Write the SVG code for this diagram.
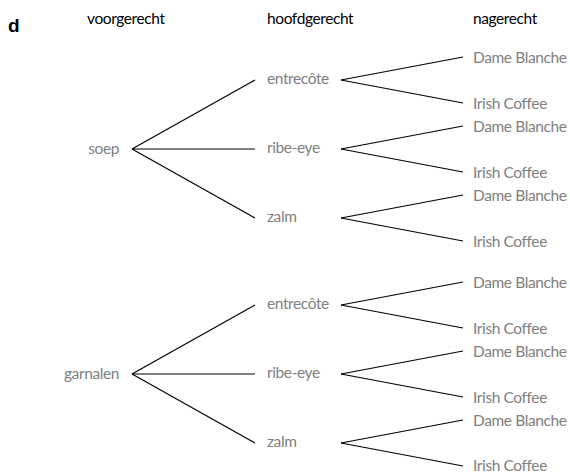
<svg xmlns="http://www.w3.org/2000/svg" width="570" height="473" viewBox="0 0 570 473">
<style>
text{font-family:"Lato","Liberation Sans",sans-serif;font-size:15.5px;letter-spacing:-0.4px}
.h{fill:#000}
.n{fill:#808080}
.e{text-anchor:end}
.c line{stroke:#000;stroke-width:1.2}
</style>
<rect width="570" height="473" fill="#fff"/>
<g id="headers">
<text x="8" y="32" style="font-family:'Liberation Sans',sans-serif;font-weight:bold;font-size:19px;letter-spacing:0">d</text>
<text class="h" x="87" y="24">voorgerecht</text>
<text class="h" x="267" y="24">hoofdgerecht</text>
<text class="h" x="473" y="24">nagerecht</text>
</g>
<g class="c" id="connectors">
<line x1="132" y1="149" x2="255" y2="80"/>
<line x1="132" y1="149" x2="255" y2="149"/>
<line x1="132" y1="149" x2="255" y2="218"/>
<line x1="341" y1="80" x2="463" y2="57"/>
<line x1="341" y1="80" x2="463" y2="103"/>
<line x1="341" y1="149" x2="463" y2="126"/>
<line x1="341" y1="149" x2="463" y2="172"/>
<line x1="341" y1="218" x2="463" y2="195"/>
<line x1="341" y1="218" x2="463" y2="241"/>
<line x1="132" y1="374" x2="255" y2="305"/>
<line x1="132" y1="374" x2="255" y2="374"/>
<line x1="132" y1="374" x2="255" y2="443"/>
<line x1="341" y1="305" x2="463" y2="282"/>
<line x1="341" y1="305" x2="463" y2="328"/>
<line x1="341" y1="374" x2="463" y2="351"/>
<line x1="341" y1="374" x2="463" y2="397"/>
<line x1="341" y1="443" x2="463" y2="420"/>
<line x1="341" y1="443" x2="463" y2="466"/>
</g>
<g id="soep"><text class="n e" x="119" y="153.5">soep</text></g>
<g id="soep-entrecote"><text class="n" x="267" y="84">entrecôte</text></g>
<g id="soep-ribeye"><text class="n" x="267" y="153">ribe-eye</text></g>
<g id="soep-zalm"><text class="n" x="267" y="222">zalm</text></g>
<g id="d1"><text class="n" x="473" y="62.5">Dame Blanche</text></g>
<g id="d2"><text class="n" x="473" y="108.5">Irish Coffee</text></g>
<g id="d3"><text class="n" x="473" y="131.5">Dame Blanche</text></g>
<g id="d4"><text class="n" x="473" y="177.5">Irish Coffee</text></g>
<g id="d5"><text class="n" x="473" y="200.5">Dame Blanche</text></g>
<g id="d6"><text class="n" x="473" y="246.5">Irish Coffee</text></g>
<g id="garnalen"><text class="n e" x="119" y="378.5">garnalen</text></g>
<g id="garnalen-entrecote"><text class="n" x="267" y="309">entrecôte</text></g>
<g id="garnalen-ribeye"><text class="n" x="267" y="378">ribe-eye</text></g>
<g id="garnalen-zalm"><text class="n" x="267" y="447">zalm</text></g>
<g id="d7"><text class="n" x="473" y="287.5">Dame Blanche</text></g>
<g id="d8"><text class="n" x="473" y="333.5">Irish Coffee</text></g>
<g id="d9"><text class="n" x="473" y="356.5">Dame Blanche</text></g>
<g id="d10"><text class="n" x="473" y="402.5">Irish Coffee</text></g>
<g id="d11"><text class="n" x="473" y="425.5">Dame Blanche</text></g>
<g id="d12"><text class="n" x="473" y="471">Irish Coffee</text></g>
</svg>
